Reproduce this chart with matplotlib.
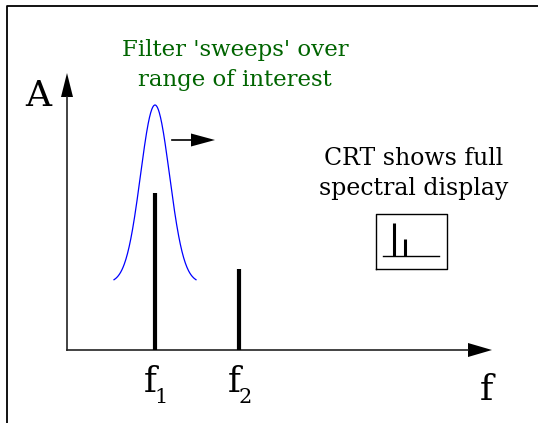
import matplotlib.pyplot as plt
import numpy as np

plt.rcParams["font.family"] = ["DejaVu Serif"]

# spectral lines (x position from origin, amplitude), in px of the drawing
peak_freqs = [88, 172]
peak_amps = [157, 81]
freq_labels = ["1", "2"]

# swept filter shape
filter_center = 88
filter_peak = 245
filter_base = 67
filter_halfwidth = 41
filter_sigma = 14.5

mini_scale = 0.21  # CRT thumbnail keeps the amplitude ratio
mini_freqs = [327, 338]

fig = plt.figure(figsize=(5.38, 4.23), dpi=100)
ax = fig.add_axes([0, 0, 1, 1])
ax.set_xlim(-67, 471)
ax.set_ylim(-73, 350)
ax.axis("off")

# outer frame (left and top only)
ax.plot([-60, -60, 480], [-80, 344, 344], color="black", lw=1.3, clip_on=False)

# axes with arrows
ax.plot([0, 0], [0, 253], color="#222222", lw=1.2)
ax.fill([-6, 6, 0], [253, 253, 277], color="black", lw=0)
ax.plot([0, 401], [0, 0], color="#222222", lw=1.2)
ax.fill([401, 401, 425], [-7, 7, 0], color="black", lw=0)

# filter curve
fx = np.linspace(filter_center - filter_halfwidth, filter_center + filter_halfwidth, 200)
fy = filter_base + (filter_peak - filter_base) * np.exp(-((fx - filter_center) ** 2) / (2 * filter_sigma ** 2))
ax.plot(fx, fy, color="blue", lw=0.9)

# sweep arrow
ax.plot([105, 126], [210, 210], color="black", lw=1.2)
ax.fill([124, 124, 148], [203.5, 216.5, 210], color="black", lw=0)

# spectral lines
for f, a, lab in zip(peak_freqs, peak_amps, freq_labels):
    ax.plot([f, f], [0, a], color="black", lw=3, solid_capstyle="butt")
    ax.text(f - 5, -42, "f", fontsize=25, ha="center", va="baseline")
    ax.text(f + 6, -53, lab, fontsize=15, ha="center", va="baseline")

ax.text(-29, 244, "A", fontsize=26, ha="center", va="baseline")
ax.text(419, -50, "f", fontsize=26, ha="center", va="baseline")

ax.text(168, 294, "Filter 'sweeps' over", fontsize=16.5, color="#006400", ha="center", va="baseline")
ax.text(168, 264, "range of interest", fontsize=16.5, color="#006400", ha="center", va="baseline")

ax.text(347, 185, "CRT shows full", fontsize=17, ha="center", va="baseline")
ax.text(347, 155, "spectral display", fontsize=17, ha="center", va="baseline")

# CRT thumbnail
ax.plot([309, 380, 380, 309, 309], [81, 81, 136, 136, 81], color="black", lw=1)
ax.plot([316, 372], [94, 94], color="black", lw=1)
for mf, a in zip(mini_freqs, peak_amps):
    ax.plot([mf, mf], [94, 94 + a * mini_scale], color="black", lw=2.2, solid_capstyle="butt")

fig.savefig("out.png", dpi=100)
